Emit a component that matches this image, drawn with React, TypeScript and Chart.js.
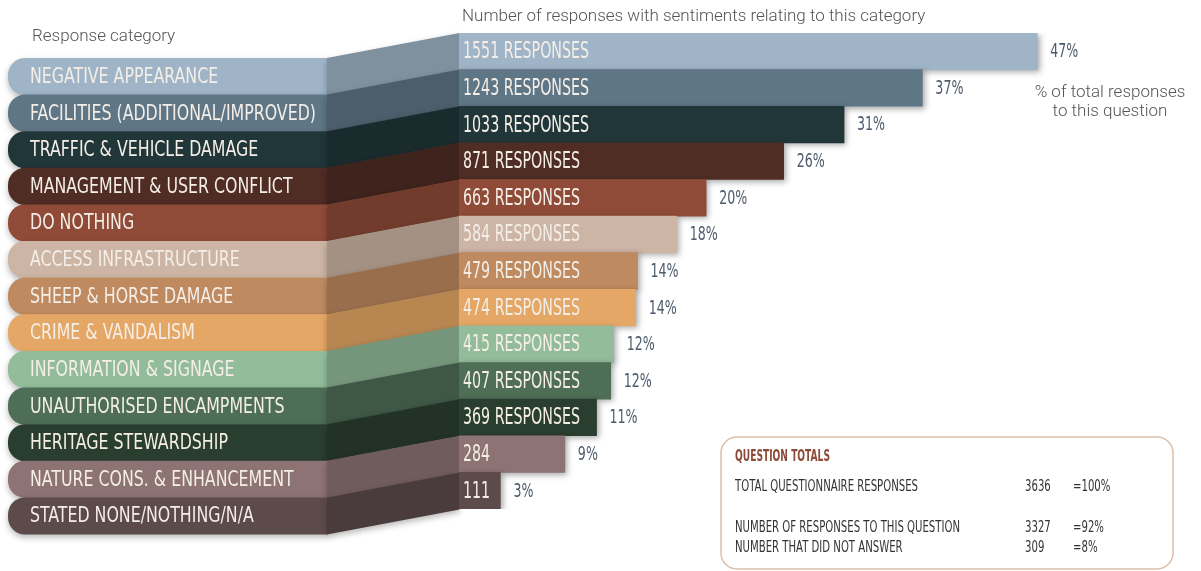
import React, { useEffect, useRef } from "react";
import { Chart, registerables } from "chart.js";

Chart.register(...registerables);

const categories = [
  "NEGATIVE APPEARANCE",
  "FACILITIES (ADDITIONAL/IMPROVED)",
  "TRAFFIC & VEHICLE DAMAGE",
  "MANAGEMENT & USER CONFLICT",
  "DO NOTHING",
  "ACCESS INFRASTRUCTURE",
  "SHEEP & HORSE DAMAGE",
  "CRIME & VANDALISM",
  "INFORMATION & SIGNAGE",
  "UNAUTHORISED ENCAMPMENTS",
  "HERITAGE STEWARDSHIP",
  "NATURE CONS. & ENHANCEMENT",
  "STATED NONE/NOTHING/N/A",
];
const responses = [1551, 1243, 1033, 871, 663, 584, 479, 474, 415, 407, 369, 284, 111];
const percents = [47, 37, 31, 26, 20, 18, 14, 14, 12, 12, 11, 9, 3];
const colors = [
  "#9fb5c7",
  "#5f7686",
  "#213638",
  "#4f2c24",
  "#8f4b37",
  "#cdb5a5",
  "#bf8a5f",
  "#e5a765",
  "#93bc9b",
  "#4e6e56",
  "#2a3e30",
  "#8d7373",
  "#5d4b4b",
];
const totalLabels = [
  "TOTAL QUESTIONNAIRE RESPONSES",
  "NUMBER OF RESPONSES TO THIS QUESTION",
  "NUMBER THAT DID NOT ANSWER",
];
const totalValues = ["3636", "3327", "309"];
const totalPercents = ["=100%", "=92%", "=8%"];

const COND = "'Liberation Sans Narrow', 'DejaVu Sans Condensed', 'Roboto Condensed', 'Liberation Sans', sans-serif";
const LIGHT = "Roboto, 'Open Sans', sans-serif";

function shade(hex: string, f: number) {
  const n = parseInt(hex.slice(1), 16);
  const r = Math.round(((n >> 16) & 255) * f);
  const g = Math.round(((n >> 8) & 255) * f);
  const b = Math.round((n & 255) * f);
  return `rgb(${r},${g},${b})`;
}

function drawScaled(ctx: CanvasRenderingContext2D, text: string, x: number, y: number, sx: number) {
  ctx.save();
  ctx.translate(x, y);
  ctx.scale(sx, 1);
  ctx.fillText(text, 0, 0);
  ctx.restore();
}

function scaleFor(ctx: CanvasRenderingContext2D, font: string, sample: string, target: number) {
  ctx.save();
  ctx.font = font;
  const w = ctx.measureText(sample).width;
  ctx.restore();
  return w > 0 ? target / w : 1;
}

const PILL_LEFT = 8;
const CONN_LEFT = 327;
const LEFT_OFFSET = 25;

const infographic = {
  id: "infographic",
  beforeDraw(chart: any) {
    const ctx = chart.ctx as CanvasRenderingContext2D;
    ctx.save();
    ctx.fillStyle = "#ffffff";
    ctx.fillRect(0, 0, chart.width, chart.height);
    ctx.fillStyle = "#555555";
    ctx.textBaseline = "alphabetic";
    ctx.font = `300 17px ${LIGHT}`;
    ctx.fillText("Response category", 32, 41);
    ctx.fillText("Number of responses with sentiments relating to this category", 462, 21);
    ctx.textAlign = "center";
    ctx.fillText("% of total responses", 1110, 97);
    ctx.fillText("to this question", 1110, 116);
    ctx.restore();
  },
  beforeDatasetsDraw(chart: any) {
    const ctx = chart.ctx as CanvasRenderingContext2D;
    const y = chart.scales.y;
    const area = chart.chartArea;
    const h = (area.bottom - area.top) / categories.length;
    const x0 = chart.scales.x.getPixelForValue(0);
    ctx.save();
    categories.forEach((_, i) => {
      const bt = y.getPixelForValue(i) - h / 2;
      const lt = bt + LEFT_OFFSET;
      ctx.save();
      ctx.shadowColor = "rgba(0,0,0,0.28)";
      ctx.shadowBlur = 6;
      ctx.shadowOffsetX = 0;
      ctx.shadowOffsetY = 3;
      ctx.fillStyle = colors[i];
      ctx.beginPath();
      (ctx as any).roundRect(PILL_LEFT, lt, CONN_LEFT - PILL_LEFT + 1, h + 0.5, [17, 0, 0, 17]);
      ctx.fill();
      ctx.fillStyle = shade(colors[i], 0.8);
      ctx.beginPath();
      ctx.moveTo(CONN_LEFT, lt);
      ctx.lineTo(x0 + 0.5, bt);
      ctx.lineTo(x0 + 0.5, bt + h + 0.5);
      ctx.lineTo(CONN_LEFT, lt + h + 0.5);
      ctx.closePath();
      ctx.fill();
      ctx.restore();
    });
    const labelFont = `22px ${COND}`;
    const sx = scaleFor(ctx, labelFont, "FACILITIES (ADDITIONAL/IMPROVED)", 286);
    ctx.font = labelFont;
    ctx.fillStyle = "#f4eee7";
    ctx.textBaseline = "middle";
    categories.forEach((c, i) => {
      const cy = y.getPixelForValue(i) + LEFT_OFFSET + 1;
      drawScaled(ctx, c, 30, cy, sx);
    });
    ctx.restore();
    ctx.save();
    ctx.shadowColor = "rgba(0,0,0,0.35)";
    ctx.shadowBlur = 6;
    ctx.shadowOffsetX = 2;
    ctx.shadowOffsetY = 2;
  },
  afterDatasetsDraw(chart: any) {
    const ctx = chart.ctx as CanvasRenderingContext2D;
    ctx.restore();
    const y = chart.scales.y;
    const x = chart.scales.x;
    ctx.save();
    ctx.textBaseline = "middle";
    const barFont = `23px ${COND}`;
    const sxBar = scaleFor(ctx, barFont, "1551 RESPONSES", 126);
    const pctFont = `19px ${COND}`;
    const sxPct = scaleFor(ctx, pctFont, "47%", 28);
    responses.forEach((v, i) => {
      const cy = y.getPixelForValue(i) + 1;
      ctx.font = barFont;
      ctx.fillStyle = "#f4eee7";
      const lbl = v >= 300 ? `${v} RESPONSES` : `${v}`;
      drawScaled(ctx, lbl, x.getPixelForValue(0) + 4, cy, sxBar);
      ctx.font = pctFont;
      ctx.fillStyle = "#4d5b6c";
      drawScaled(ctx, `${percents[i]}%`, x.getPixelForValue(v) + 13, cy, sxPct);
    });
    ctx.beginPath();
    (ctx as any).roundRect(721, 437, 452, 132, 16);
    ctx.fillStyle = "#ffffff";
    ctx.fill();
    ctx.lineWidth = 1.5;
    ctx.strokeStyle = "#dcbfa9";
    ctx.stroke();
    const tFont = `15px ${COND}`;
    const sxT = scaleFor(ctx, tFont, "TOTAL QUESTIONNAIRE RESPONSES", 183);
    ctx.font = `bold 15px ${COND}`;
    ctx.fillStyle = "#8b4b38";
    const sxH = scaleFor(ctx, `bold 15px ${COND}`, "QUESTION TOTALS", 95);
    drawScaled(ctx, "QUESTION TOTALS", 735, 457, sxH);
    ctx.font = tFont;
    ctx.fillStyle = "#333333";
    const rowsY = [487, 528, 548];
    totalLabels.forEach((t, i) => {
      drawScaled(ctx, t, 735, rowsY[i], sxT);
      drawScaled(ctx, totalValues[i], 1025, rowsY[i], sxT);
      drawScaled(ctx, totalPercents[i], 1073, rowsY[i], sxT);
    });
    ctx.restore();
  },
};

export default function App() {
  const ref = useRef<HTMLCanvasElement | null>(null);
  useEffect(() => {
    document.body.style.margin = "0";
    const canvas = ref.current!;
    const chart = new Chart(canvas, {
      type: "bar",
      data: {
        labels: categories,
        datasets: [
          {
            data: responses,
            backgroundColor: colors,
            borderWidth: 0,
            barPercentage: 1,
            categoryPercentage: 1,
          },
        ],
      },
      options: {
        indexAxis: "y",
        responsive: false,
        animation: false,
        events: [],
        layout: { padding: { left: 459, right: 71, top: 33, bottom: 62 } },
        scales: {
          x: { display: false, min: 0, max: 1800 },
          y: { display: false },
        },
        plugins: {
          legend: { display: false },
          tooltip: { enabled: false },
          title: { display: false },
        },
      },
      plugins: [infographic],
    });
    return () => chart.destroy();
  }, []);
  return (
    <canvas
      ref={ref}
      width={1201}
      height={571}
      style={{ display: "block", position: "absolute", left: 0, top: 0, width: 1201, height: 571 }}
    />
  );
}
